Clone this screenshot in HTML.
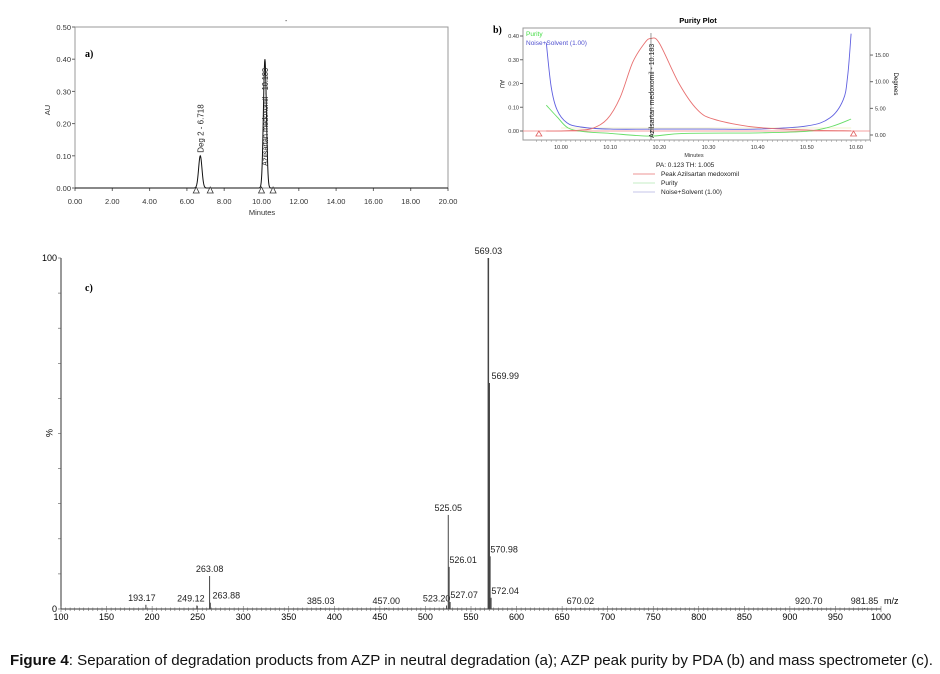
<!DOCTYPE html>
<html><head><meta charset="utf-8"><style>
html,body{margin:0;padding:0;background:#fff;}
svg{display:block;font-family:"Liberation Sans",Arial,sans-serif;}
</style></head><body>
<svg id="fig" width="940" height="674" viewBox="0 0 940 674" xmlns="http://www.w3.org/2000/svg">
<g id="pa"></g>
<g id="pb"></g>
<g id="pc"></g>
<text x="10" y="665" font-size="15" textLength="923" lengthAdjust="spacingAndGlyphs" fill="#111"><tspan font-weight="bold">Figure 4</tspan>: Separation of degradation products from AZP in neutral degradation (a); AZP peak purity by PDA (b) and mass spectrometer (c).</text>
</svg>
<script>
// ---------- Panel A data ----------
const aTicksX = [0,2,4,6,8,10,12,14,16,18,20];
const aTicksY = [0,0.1,0.2,0.3,0.4,0.5];
const aPeakRT = [6.718, 10.183];
const aPeakH = [0.10, 0.40];
const aPeakW = [0.09, 0.08];
const aPeakNames = ["Deg 2 - 6.718", "Azilsartan medoxomil - 10.183"];
const aMarkers = [6.5, 7.25, 10.0, 10.62];
// ---------- Panel B data ----------
const bTicksX = [10.0,10.1,10.2,10.3,10.4,10.5,10.6];
const bTicksY = [0,0.1,0.2,0.3,0.4];
const bTicksDeg = [0,5,10,15];
const bRedT = [9.97,10.00,10.04,10.065,10.094,10.12,10.146,10.17,10.183,10.20,10.24,10.277,10.31,10.38,10.45,10.52,10.59];
const bRedAU = [0,0,0.004,0.012,0.05,0.14,0.29,0.37,0.39,0.37,0.20,0.09,0.05,0.02,0.008,0.003,0.001];
const bBlueT = [9.97,9.98,9.992,10.012,10.04,10.10,10.20,10.30,10.40,10.50,10.547,10.574,10.583,10.59];
const bBlueDeg = [17.3,9.0,4.7,2.3,1.5,1.1,1.1,1.1,1.1,1.7,3.2,6.6,11,19];
const bGreenT = [9.97,9.992,10.015,10.05,10.10,10.18,10.25,10.40,10.50,10.55,10.59];
const bGreenDeg = [5.6,3.4,1.3,0.6,0.3,-0.2,0.3,0.4,0.7,1.6,3.0];
// ---------- Panel C data ----------
const cTicksX = [100,150,200,250,300,350,400,450,500,550,600,650,700,750,800,850,900,950,1000];
const cMz = [193.17,249.12,263.08,263.88,385.03,457.00,523.20,525.05,526.01,527.07,569.03,569.99,570.98,572.04,670.02,920.70,981.85];
const cInt = [1.2,1.0,9.4,1.8,0.3,0.3,1.0,26.8,12.0,2.0,100,64.4,15.0,3.2,0.3,0.3,0.3];
const cLabels = ["193.17","249.12","263.08","263.88","385.03","457.00","523.20","525.05","526.01","527.07","569.03","569.99","570.98","572.04","670.02","920.70","981.85"];
const cLabDx = [-4,-6,0,16,0,0,-10,0,14,14,0,16,14,14,0,0,0];
const cLabDy = [-4,-4,-4,-4,-4,-4,-4,-4,-4,-4,-4,-4,-4,-4,-4,-4,-4];

const NS="http://www.w3.org/2000/svg";
function mk(parent,tag,attrs,text){const e=document.createElementNS(NS,tag);for(const k in attrs)e.setAttribute(k,attrs[k]);if(text!==undefined)e.textContent=text;parent.appendChild(e);return e;}
function smooth(pts){let d='M'+pts[0][0].toFixed(1)+','+pts[0][1].toFixed(1);
 for(let i=0;i<pts.length-1;i++){const p0=pts[Math.max(0,i-1)],p1=pts[i],p2=pts[i+1],p3=pts[Math.min(pts.length-1,i+2)];
  const c1=[p1[0]+(p2[0]-p0[0])/6,p1[1]+(p2[1]-p0[1])/6],c2=[p2[0]-(p3[0]-p1[0])/6,p2[1]-(p3[1]-p1[1])/6];
  d+=`C${c1[0].toFixed(1)},${c1[1].toFixed(1)} ${c2[0].toFixed(1)},${c2[1].toFixed(1)} ${p2[0].toFixed(1)},${p2[1].toFixed(1)}`;}
 return d;}

// ===== Panel A =====
(function(){
const g=document.getElementById('pa');
const X0=75,X1=448,Y0=188,Y1=27;
const sx=v=>X0+(v-0)/(20-0)*(X1-X0);
const sy=v=>Y0-(v-0)/(0.5)*(Y0-Y1);
let e=mk(g,'rect',{x:X0,y:Y1,width:X1-X0,height:Y0-Y1,fill:'none',stroke:'#999','stroke-width':1});

aTicksY.forEach(v=>{mk(g,'line',{x1:X0-3,x2:X0,y1:sy(v),y2:sy(v),stroke:'#666'});
 e=mk(g,'text',{x:X0-4,y:sy(v)+3,'font-size':7.5,'text-anchor':'end',fill:'#333'},v.toFixed(2));
 });
aTicksX.forEach(v=>{mk(g,'line',{x1:sx(v),x2:sx(v),y1:Y0,y2:Y0+3,stroke:'#666'});
 e=mk(g,'text',{x:sx(v),y:Y0+16,'font-size':7.5,'text-anchor':'middle',fill:'#333'},v.toFixed(2));
 });
e=mk(g,'text',{x:262,y:215,'font-size':7.5,'text-anchor':'middle',fill:'#333'},'Minutes');

e=mk(g,'text',{x:0,y:0,'font-size':7.5,'text-anchor':'middle',fill:'#333',transform:'translate(50,110) rotate(-90)'},'AU');

e=mk(g,'text',{x:85,y:57,'font-size':10,'font-weight':'bold','font-family':'Liberation Serif,serif'},'a)');

let d='';
for(let i=0;i<=1200;i++){const t=i/1200*20;let v=0;aPeakRT.forEach((rt,k)=>{v+=aPeakH[k]*Math.exp(-0.5*Math.pow((t-rt)/aPeakW[k],2));});d+=(i?'L':'M')+sx(t).toFixed(2)+','+sy(v).toFixed(2);}
e=mk(g,'path',{d:d,fill:'none',stroke:'#111','stroke-width':1});

aPeakRT.forEach((rt,k)=>{const x=sx(rt)+3;
 const big=aPeakH[k]>0.3;
 const y=big?Y0-22:sy(aPeakH[k])-3;
 const attrs={x:0,y:0,'font-size':8,fill:'#222',transform:`translate(${x},${y}) rotate(-90)`};
 if(big){attrs.textLength=98;attrs.lengthAdjust='spacingAndGlyphs';}
 e=mk(g,'text',attrs,aPeakNames[k]);
 });
aMarkers.forEach(m=>{const x=sx(m),y=Y0+3;
 e=mk(g,'path',{d:`M${x-3},${y+2}L${x},${y-4}L${x+3},${y+2}Z`,fill:'#fff',stroke:'#333','stroke-width':0.8});
 });
mk(g,'text',{x:285,y:23,'font-size':7,fill:'#333'},'-');
})();

// ===== Panel B =====
(function(){
const g=document.getElementById('pb');
const X0=523,X1=870,Y0=140,Y1=28;
const sx=v=>561+(v-10.0)/0.6*(856-561);
const sy=v=>131-v*237.5;
const sd=v=>135-v*5.33;
let e=mk(g,'rect',{x:X0,y:Y1,width:X1-X0,height:Y0-Y1,fill:'none',stroke:'#999'});

e=mk(g,'text',{x:698,y:23,'font-size':7.5,'font-weight':'bold','text-anchor':'middle'},'Purity Plot');

e=mk(g,'text',{x:493,y:33,'font-size':10,'font-weight':'bold','font-family':'Liberation Serif,serif'},'b)');

bTicksY.forEach(v=>{mk(g,'line',{x1:X0-3,x2:X0,y1:sy(v),y2:sy(v),stroke:'#666'});
 e=mk(g,'text',{x:X0-4,y:sy(v)+2,'font-size':5.5,'text-anchor':'end',fill:'#333'},v.toFixed(2));
 });
bTicksDeg.forEach(v=>{mk(g,'line',{x1:X1,x2:X1+3,y1:sd(v),y2:sd(v),stroke:'#666'});
 e=mk(g,'text',{x:X1+5,y:sd(v)+2,'font-size':5.5,fill:'#333'},v.toFixed(2));
 });
for(let t=9.95;t<=10.63;t+=0.01){mk(g,'line',{x1:sx(t),x2:sx(t),y1:Y0,y2:Y0+2,stroke:'#888','stroke-width':0.5});}
bTicksX.forEach(v=>{
 e=mk(g,'text',{x:sx(v),y:Y0+9,'font-size':5.5,'text-anchor':'middle',fill:'#333'},v.toFixed(2));
 });
e=mk(g,'text',{x:694,y:157,'font-size':5.5,'text-anchor':'middle',fill:'#333'},'Minutes');

e=mk(g,'text',{x:0,y:0,'font-size':6,'text-anchor':'middle',transform:'translate(500,84) rotate(90)'},'AU');

e=mk(g,'text',{x:0,y:0,'font-size':6,'text-anchor':'middle',transform:'translate(894,84) rotate(90)'},'Degrees');

mk(g,'line',{x1:X0,x2:X1,y1:131,y2:131,stroke:'#f08080','stroke-width':0.8});
mk(g,'line',{x1:sx(10.0),x2:sx(10.59),y1:128,y2:128,stroke:'#e8e8a0','stroke-width':0.6});
const line=(ts,vs,f,col,name)=>{const pts=ts.map((t,i)=>[sx(t),f(vs[i])]);
 const p=mk(g,'path',{d:smooth(pts),fill:'none',stroke:col,'stroke-width':0.9,'stroke-linejoin':'round'});
 };
line(bGreenT,bGreenDeg,sd,'#66dd66','purity-curve');
line(bBlueT,bBlueDeg,sd,'#6060e0','noise-solvent-curve');
line(bRedT,bRedAU,sy,'#e87070','peak-curve');
mk(g,'line',{x1:sx(10.183),x2:sx(10.183),y1:Y1+5,y2:Y0,stroke:'#555','stroke-width':0.6});
e=mk(g,'text',{x:0,y:0,'font-size':7,fill:'#222',transform:`translate(${sx(10.183)+3},${Y0-2}) rotate(-90)`},'Azilsartan medoxomil - 10.183');

[9.955,10.595].forEach(m=>{const x=sx(m),y=134;
 e=mk(g,'path',{d:`M${x-3},${y+2}L${x},${y-3}L${x+3},${y+2}Z`,fill:'none',stroke:'#e06060','stroke-width':0.8});
 });
e=mk(g,'text',{x:526,y:36,'font-size':6.5,fill:'#44dd44'},'Purity');

e=mk(g,'text',{x:526,y:45,'font-size':6.5,fill:'#5050d0'},'Noise+Solvent (1.00)');

e=mk(g,'text',{x:656,y:167,'font-size':6.5,fill:'#222'},'PA:  0.123  TH:  1.005');

const leg=[['Peak Azilsartan medoxomil','#e87070',176],['Purity','#b0e8b0',185],['Noise+Solvent (1.00)','#b0b0e0',194]];
leg.forEach(l=>{const lg=mk(g,'g',{});
 mk(lg,'line',{x1:633,x2:655,y1:l[2]-2,y2:l[2]-2,stroke:l[1],'stroke-width':0.8});
 mk(lg,'text',{x:661,y:l[2],'font-size':6.5,fill:'#222'},l[0]);});
})();

// ===== Panel C =====
(function(){
const g=document.getElementById('pc');
const X0=61,X1=881,Y0=609,Y1=258;
const sx=v=>X0+(v-100)/900*(X1-X0);
const sy=v=>Y0-v/100*(Y0-Y1);
let e=mk(g,'line',{x1:X0,x2:X0,y1:Y1,y2:Y0,stroke:'#333'});

e=mk(g,'line',{x1:X0,x2:X1,y1:Y0,y2:Y0,stroke:'#333'});

for(let v=0;v<=100;v+=10){mk(g,'line',{x1:X0-3,x2:X0,y1:sy(v),y2:sy(v),stroke:'#555','stroke-width':0.6});}
e=mk(g,'text',{x:X0-4,y:sy(100)+3,'font-size':9,'text-anchor':'end'},'100');

e=mk(g,'text',{x:X0-4,y:sy(0)+3,'font-size':9,'text-anchor':'end'},'0');

e=mk(g,'text',{x:0,y:0,'font-size':9,'text-anchor':'middle',transform:'translate(46,433) rotate(90)'},'%');

e=mk(g,'text',{x:85,y:291,'font-size':10,'font-weight':'bold','font-family':'Liberation Serif,serif'},'c)');

for(let v=100;v<=1000;v+=5){const big=v%50===0;mk(g,'line',{x1:sx(v),x2:sx(v),y1:Y0-(big?3:1.5),y2:Y0+(big?3:2),stroke:'#555','stroke-width':0.5});}
cTicksX.forEach(v=>{e=mk(g,'text',{x:sx(v),y:Y0+11,'font-size':9,'text-anchor':'middle'},String(v));
 });
e=mk(g,'text',{x:884,y:604,'font-size':9},'m/z');

cMz.forEach((m,i)=>{const x=sx(m),y=sy(cInt[i]);
 e=mk(g,'line',{x1:x,x2:x,y1:Y0,y2:y,stroke:'#444','stroke-width':cInt[i]>50?1.5:1});
 
 e=mk(g,'text',{x:x+cLabDx[i],y:y+cLabDy[i],'font-size':9,'text-anchor':'middle',fill:'#222'},cLabels[i]);
 });
})();
</script>
</body></html>
